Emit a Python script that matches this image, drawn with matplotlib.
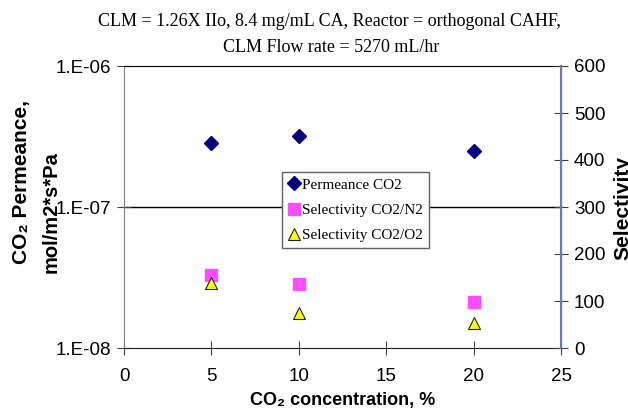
import matplotlib
matplotlib.use('Agg')
import matplotlib.pyplot as plt

# CO2 concentration, %
conc = [5, 10, 20]
# permeance CO2, mol/m2*s*Pa (left axis, log)
perm_co2 = [2.84e-7, 3.19e-7, 2.49e-7]
# selectivities (right axis)
sel_co2_n2 = [155, 136, 98]
sel_co2_o2 = [138, 74, 53]

xticks = [0, 5, 10, 15, 20, 25]
left_ticks = [1e-8, 1e-7, 1e-6]
left_labels = ["1.E-08", "1.E-07", "1.E-06"]
right_ticks = [0, 100, 200, 300, 400, 500, 600]

plt.rcParams['font.family'] = ['Liberation Sans', 'DejaVu Sans']

W, H = 628, 415
fig = plt.figure(figsize=(6.28, 4.15), dpi=100)
ax = fig.add_axes([124/W, 1-348/H, 437/W, 282/H])
ax2 = ax.twinx()

ax.set_yscale('log')
ax.set_ylim(1e-8, 1e-6)
ax.set_xlim(0, 25)
ax.set_xticks(xticks)
ax.set_yticks(left_ticks)
ax.set_yticklabels(left_labels)
ax.minorticks_off()
ax.axhline(1e-7, color='black', lw=1, zorder=1)
ax.tick_params(axis='both', direction='inout', length=10.5, labelsize=13.5, color='#404040')
ax.tick_params(axis='x', pad=9.5)
ax.tick_params(axis='y', pad=4)

ax2.set_ylim(0, 600)
ax2.set_yticks(right_ticks)
ax2.tick_params(axis='y', direction='inout', length=10.5, labelsize=13.5,
                color='#404040', pad=4)

ax.spines['left'].set_color('#808080')
ax.spines['bottom'].set_color('#202020')
ax.spines['top'].set_color('black')
ax2.spines['right'].set_color('#6678cc')
ax2.spines['right'].set_linewidth(1.5)
for sp in ['left', 'bottom', 'top']:
    ax2.spines[sp].set_visible(False)

h1, = ax.plot(conc, perm_co2, 'D', ms=7, color='#000080', ls='none',
              label='Permeance CO2', zorder=3)
h2, = ax2.plot(conc, sel_co2_n2, 's', ms=8.5, color='#ff4dff', ls='none',
               label='Selectivity CO2/N2', zorder=3)
h3, = ax2.plot(conc, sel_co2_o2, '^', ms=9, mfc='#ffff00', mec='#202020', mew=0.8,
               ls='none', label='Selectivity CO2/O2', zorder=4)

leg = ax2.legend(handles=[h1, h2, h3], loc='upper left',
                 bbox_to_anchor=((282-124)/437, (348-172)/282),
                 prop={'family': 'Liberation Serif', 'size': 11},
                 frameon=True, fancybox=False, handlelength=0.8, handletextpad=0.1,
                 borderpad=0.4, labelspacing=0.75, borderaxespad=0, framealpha=1)
leg.get_frame().set_edgecolor('#606060')
leg.get_frame().set_linewidth(1)

ax.set_xlabel('CO₂ concentration, %', fontsize=13, fontweight='bold', labelpad=5)
fig.text(22/W, 1-182/H, 'CO₂ Permeance,', rotation=90,
         ha='center', va='center', fontsize=15, fontweight='bold')
fig.text(51/W, 1-212/H, 'mol/m2*s*Pa', rotation=90,
         ha='center', va='center', fontsize=14.5, fontweight='bold')
fig.text(613/W, 1-208/H, 'Selectivity', rotation=90, ha='left', va='center',
         fontsize=15, fontweight='bold')

fig.text(329/W, 1-21/H, 'CLM = 1.26X IIo, 8.4 mg/mL CA, Reactor = orthogonal CAHF,',
         ha='center', va='center', fontsize=13, family='Liberation Serif')
fig.text(331/W, 1-47/H, 'CLM Flow rate = 5270 mL/hr',
         ha='center', va='center', fontsize=13, family='Liberation Serif')

fig.savefig('out.png', dpi=100)
